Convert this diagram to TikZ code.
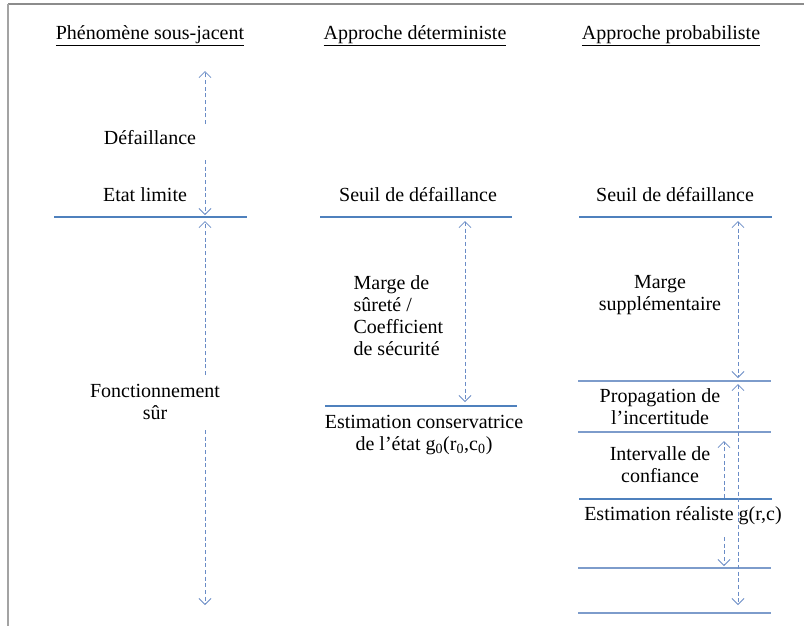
\documentclass[tikz,border=0pt]{standalone}
\usepackage{fontspec}
\setmainfont{Liberation Serif}
\usepackage{tikz}
\usetikzlibrary{arrows.meta,positioning}

\definecolor{levelblue}{HTML}{4F81BD}
\definecolor{thinblue}{HTML}{7D9CCB}
\definecolor{gapblue}{HTML}{6A8CC6}
\definecolor{framegray}{HTML}{8C8C8C}

\tikzset{
  lbl/.style={font=\fontsize{15}{16.5}\selectfont, align=center, inner sep=1pt},
  level/.style={draw=levelblue, line width=2.2pt},
  sublevel/.style={draw=thinblue, line width=0.8pt},
  gap/.style={draw=gapblue, dashed, dash pattern=on 3pt off 2pt, line width=0.6pt,
              -{Straight Barb[length=4.5pt,width=9pt]}},
  gapboth/.style={gap, {Straight Barb[length=4.5pt,width=9pt]}-{Straight Barb[length=4.5pt,width=9pt]}}
}

\begin{document}
\begin{tikzpicture}[x=0.75pt,y=-0.75pt]
	\useasboundingbox (0,0) rectangle (804,626);
	\draw[framegray, line width=0.8pt] (8,4) -- (804,4);
	\draw[framegray!80, line width=1.6pt] (8,4) -- (8,626);

	% en-tetes
	\node[lbl] (hdrA) at (150,36) {\underline{Phénomène sous-jacent}};
	\node[lbl] (hdrB) at (415,36) {\underline{Approche déterministe}};
	\node[lbl] (hdrC) at (671,36) {\underline{Approche probabiliste}};

	% phenomene
	\node[lbl] (fail) at (150,138) {Défaillance};
	\node[lbl] (limit) at (145,195) {Etat limite};
	\node[lbl] (safe) at (155,402) {Fonctionnement\\sûr};
	\coordinate (limA) at (54,217);
	\coordinate (limB) at (247,217);
	\draw[level] (limA) -- (limB);
	\coordinate (failTop) at (205,71);
	\coordinate (failUp) at (205,124);
	\coordinate (failDn) at (205,160);
	\coordinate (limTop) at (205,215);
	\coordinate (limBot) at (205,221);
	\coordinate (safeUp) at (205,375);
	\coordinate (safeDn) at (205,430);
	\coordinate (safeBot) at (205,605);
	\draw[gap] (failUp) -- (failTop);
	\draw[gap] (failDn) -- (limTop);
	\draw[gap] (safeUp) -- (limBot);
	\draw[gap] (safeDn) -- (safeBot);

	% deterministe
	\node[lbl] (seuilB) at (418,195) {Seuil de défaillance};
	\coordinate (seuilBA) at (320,217);
	\coordinate (seuilBB) at (512,217);
	\draw[level] (seuilBA) -- (seuilBB);
	\node[lbl, align=left, anchor=west] (marge) at (352,316) {Marge de\\sûreté /\\Coefficient\\de sécurité};
	\coordinate (consA) at (325,406);
	\coordinate (consB) at (517,406);
	\draw[level] (consA) -- (consB);
	\draw[gapboth] (465,221) -- (465,402);
	\node[lbl] (cons) at (424,435) {Estimation conservatrice\\de l’état g\textsubscript{0}(r\textsubscript{0},c\textsubscript{0})};

	% probabiliste
	\node[lbl] (seuilC) at (675,195) {Seuil de défaillance};
	\coordinate (seuilCA) at (579,217);
	\coordinate (seuilCB) at (772,217);
	\draw[level] (seuilCA) -- (seuilCB);
	\node[lbl] (supp) at (660,295) {Marge\\supplémentaire};
	\node[lbl] (prop) at (660,407) {Propagation de\\l’incertitude};
	\node[lbl] (conf) at (660,465) {Intervalle de\\confiance};
	\node[lbl] (real) at (683,516) {Estimation réaliste g(r,c)};
	\foreach \y/\nm in {381/propA, 432/confA, 568/lowA, 613/lowB}
		\draw[sublevel] (578,\y) coordinate (\nm) -- (771,\y);
	\coordinate (realA) at (579,499);
	\coordinate (realB) at (772,499);
	\draw[level] (realA) -- (realB);
	\draw[gapboth] (738,221) -- (738,378);
	\draw[gapboth] (738,384) -- (738,605);
	\draw[gap] (724,498) -- (724,441);
	\draw[gap] (724,537) -- (724,566);
\end{tikzpicture}
\end{document}
